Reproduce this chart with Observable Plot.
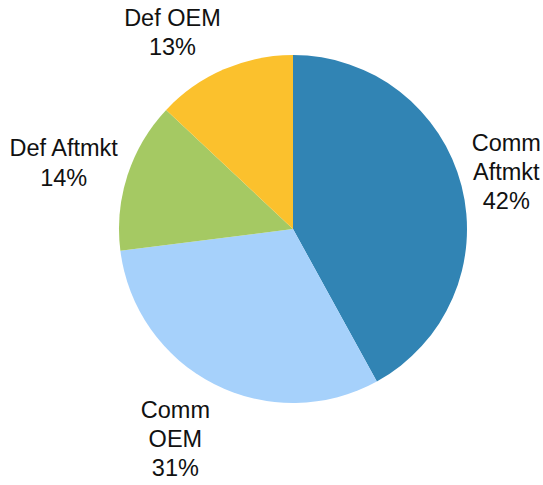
<!DOCTYPE html>
<html>
<head>
<meta charset="utf-8">
<script src="https://cdn.jsdelivr.net/npm/d3@7"></script>
<script src="https://cdn.jsdelivr.net/npm/@observablehq/plot@0.6"></script>
<style>
  html, body { margin: 0; padding: 0; background: #fff; }
  #chart svg { display: block; }
</style>
</head>
<body>
<div id="chart"></div>
<script>
// Data
const categories = ["Comm Aftmkt", "Comm OEM", "Def Aftmkt", "Def OEM"];
const labelLines = [["Comm", "Aftmkt"], ["Comm", "OEM"], ["Def Aftmkt"], ["Def OEM"]];
const shares = [42, 31, 14, 13];
const colors = ["#3184b4", "#a6d1fb", "#a5c963", "#fbc12d"];

const W = 543, H = 485;
const cx = 293, cy = 229, R = 174;   // layout
const fontSize = 23.5, lineHeight = 1.25;
const fontFamily = "'Liberation Sans', Arial, sans-serif";

const total = d3.sum(shares);
const pie = d3.pie().sort(null).value(d => d.value)
  .startAngle(0).endAngle(2 * Math.PI);

const rows = categories.map((c, i) => ({
  category: c, value: shares[i], color: colors[i], lines: labelLines[i]
}));
const arcs = pie(rows);

// measure text widths
const ctx = document.createElement("canvas").getContext("2d");
ctx.font = `${fontSize}px ${fontFamily}`;

const clamp = t => Math.max(-1, Math.min(1, t));
const labels = arcs.map(a => {
  const d = a.data;
  const lines = [...d.lines, `${Math.round(d.value / total * 100)}%`];
  const w = d3.max(lines, s => ctx.measureText(s).width);
  const h = lines.length * fontSize * lineHeight;
  const mid = (a.startAngle + a.endAngle) / 2;
  const ux = Math.sin(mid), uy = -Math.cos(mid);   // pixel-space direction (y down)
  const gap = 10;
  const ax = (R + gap) * ux, ay = (R + gap) * uy;
  const px = ax + (w / 2) * clamp(2.5 * ux);
  const py = ay + (h / 2) * clamp(1.2 * uy);
  return { text: lines.join("\n"), x: px / R, y: -py / R };
});

const arcMark = (index, scales) => {
  const r = scales.x(1) - scales.x(0);
  const x0 = scales.x(0), y0 = scales.y(0);
  const arcGen = d3.arc().innerRadius(0).outerRadius(r);
  const g = d3.create("svg:g").attr("transform", `translate(${x0},${y0})`);
  g.selectAll("path").data(arcs).join("path")
    .attr("d", arcGen)
    .attr("fill", d => d.data.color)
    .attr("stroke", "none");
  return g.node();
};

const chart = Plot.plot({
  width: W,
  height: H,
  margin: 0,
  x: { domain: [-1, 1], range: [cx - R, cx + R], axis: null },
  y: { domain: [-1, 1], range: [cy + R, cy - R], axis: null },
  style: { fontFamily, background: "#fff" },
  marks: [
    arcMark,
    Plot.text(labels, {
      x: "x", y: "y", text: "text",
      fontSize, lineHeight, lineAnchor: "middle", textAnchor: "middle",
      fill: "#111"
    })
  ]
});
document.getElementById("chart").appendChild(chart);
</script>
</body>
</html>
